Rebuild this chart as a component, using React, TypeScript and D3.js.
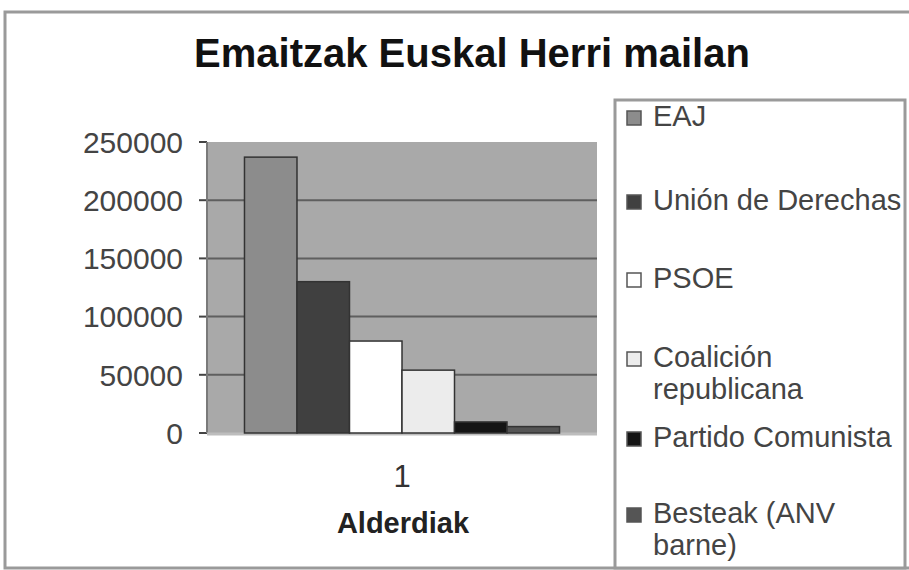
import React from "react";
import * as d3 from "d3";

const title = "Emaitzak Euskal Herri mailan";
const categories = ["1"];
const seriesNames = [
  "EAJ",
  "Unión de Derechas",
  "PSOE",
  "Coalición republicana",
  "Partido Comunista",
  "Besteak (ANV barne)",
];
const seriesValues = [237000, 130000, 79000, 54000, 9500, 5500];
const seriesColors = ["#8c8c8c", "#404040", "#ffffff", "#ececec", "#141414", "#555555"];
const legendLines = [
  ["EAJ"],
  ["Unión de Derechas"],
  ["PSOE"],
  ["Coalición", "republicana"],
  ["Partido Comunista"],
  ["Besteak (ANV", "barne)"],
];
const yTicks = [0, 50000, 100000, 150000, 200000, 250000];
const xAxisTitle = "Alderdiak";

const W = 909;
const H = 570;
const plot = { left: 207, right: 597, top: 142, bottom: 433 };
const legendBaselines = [126, 210, 288, 367, 447, 523];

export default function App() {
  const y = d3.scaleLinear().domain([0, 250000]).range([plot.bottom, plot.top]);
  const x0 = d3
    .scaleBand<string>()
    .domain(categories)
    .range([plot.left, plot.right])
    .paddingInner(0)
    .paddingOuter(0.119);
  const x1 = d3
    .scaleBand<string>()
    .domain(seriesNames)
    .range([0, x0.bandwidth()])
    .padding(0);
  const font = "'Liberation Sans', Arial, sans-serif";

  return (
    <svg
      width={W}
      height={H}
      style={{ position: "absolute", left: 0, top: 0, background: "#fff" }}
      fontFamily={font}
    >
      <rect x={0} y={0} width={W} height={H} fill="#fff" />
      {/* outer frame */}
      <rect x={5} y={12} width={W + 10} height={556} fill="none" stroke="#9a9a9a" strokeWidth={3} />
      {/* title */}
      <text x={472} y={67} textAnchor="middle" fontSize={40} fontWeight="bold" fill="#111">
        {title}
      </text>
      {/* plot area */}
      <rect
        x={plot.left}
        y={plot.top}
        width={plot.right - plot.left}
        height={plot.bottom - plot.top}
        fill="#a9a9a9"
      />
      {yTicks.map((t) => (
        <g key={t}>
          {t > 0 && t < 250000 && (
            <line
              x1={plot.left}
              x2={plot.right}
              y1={y(t)}
              y2={y(t)}
              stroke="#5f5f5f"
              strokeWidth={2}
            />
          )}
          <line x1={plot.left - 8} x2={plot.left} y1={y(t)} y2={y(t)} stroke="#444" strokeWidth={2} />
          <text
            x={183}
            y={y(t)}
            dy="0.36em"
            textAnchor="end"
            fontSize={30}
            fill="#444"
          >
            {t}
          </text>
        </g>
      ))}
      <line x1={plot.left} x2={plot.left} y1={plot.top} y2={plot.bottom} stroke="#7a7a7a" strokeWidth={2} />
      <line x1={plot.left} x2={plot.right} y1={plot.bottom + 1} y2={plot.bottom + 1} stroke="#bdbdbd" strokeWidth={3} />
      {/* bars */}
      {categories.map((c) =>
        seriesNames.map((s, i) => (
          <rect
            key={c + s}
            x={(x0(c) as number) + (x1(s) as number)}
            y={y(seriesValues[i])}
            width={x1.bandwidth()}
            height={plot.bottom - y(seriesValues[i])}
            fill={seriesColors[i]}
            stroke="#333"
            strokeWidth={1.5}
          />
        ))
      )}
      {/* x axis */}
      {categories.map((c) => (
        <text
          key={c}
          x={(x0(c) as number) + x0.bandwidth() / 2}
          y={487}
          textAnchor="middle"
          fontSize={31}
          fill="#333"
        >
          {c}
        </text>
      ))}
      <text x={403} y={533} textAnchor="middle" fontSize={29} fontWeight="bold" fill="#222">
        {xAxisTitle}
      </text>
      {/* legend */}
      <rect x={615} y={100} width={290} height={468} fill="#fff" stroke="#9a9a9a" strokeWidth={3} />
      {seriesNames.map((s, i) => (
        <g key={s}>
          <rect
            x={627}
            y={legendBaselines[i] - 15}
            width={14}
            height={14}
            fill={seriesColors[i]}
            stroke="#555"
            strokeWidth={1.5}
          />
          {legendLines[i].map((ln, j) => (
            <text key={j} x={653} y={legendBaselines[i] + j * 32} fontSize={29} fill="#444">
              {ln}
            </text>
          ))}
        </g>
      ))}
    </svg>
  );
}
